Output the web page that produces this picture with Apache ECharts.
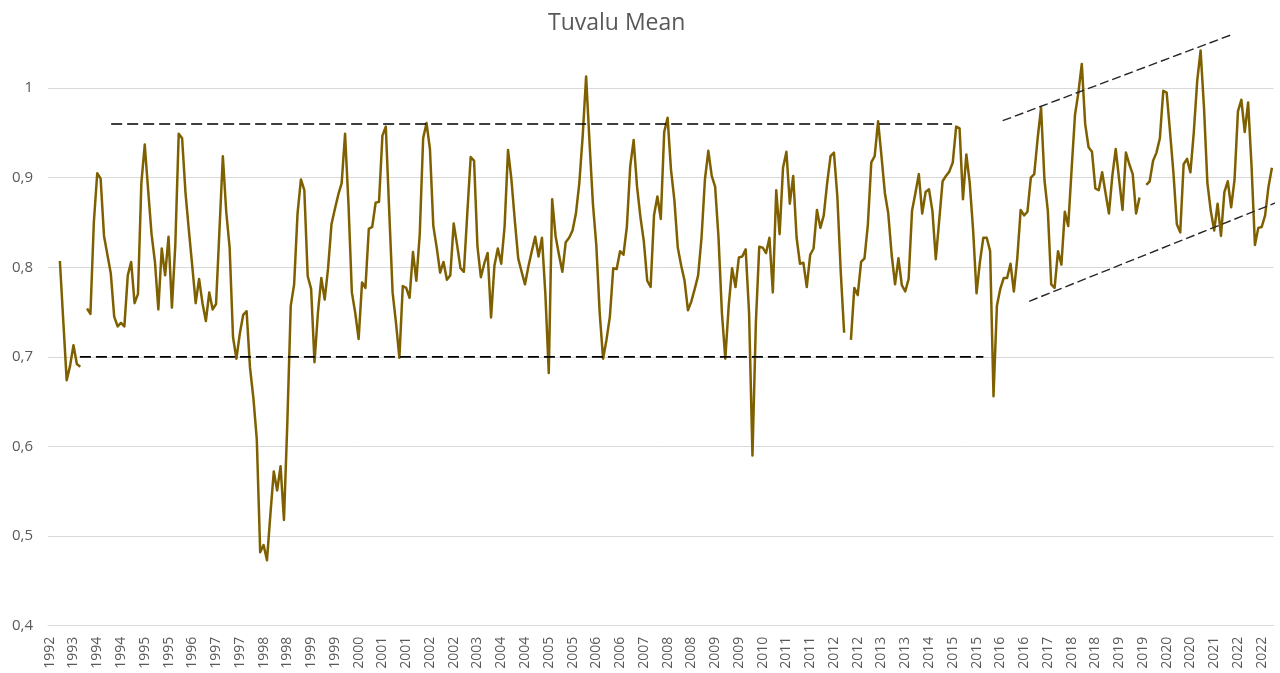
<!DOCTYPE html>
<html>
<head>
<meta charset="utf-8">
<script src="https://cdn.jsdelivr.net/npm/echarts@6/dist/echarts.min.js"></script>
<style>
html,body{margin:0;padding:0;background:#ffffff;}
#chart{width:1280px;height:673px;}
</style>
</head>
<body>
<div id="chart"></div>
<script>
// ---- data ----
const chartTitle = 'Tuvalu Mean';
const firstYear = 1992;      // category 0 = December 1992
const firstMonth = 12;
const monthCount = 361;      // Dec 1992 .. Dec 2022

// monthly mean values (null = missing month), 12 per row starting Dec 1992
const meanValues = [
  null, null, null, 0.807, 0.740, 0.674, 0.690, 0.713, 0.692, 0.689, null, 0.754,
  0.748, 0.850, 0.905, 0.899, 0.835, 0.814, 0.793, 0.745, 0.734, 0.738, 0.734, 0.791,
  0.806, 0.760, 0.770, 0.894, 0.937, 0.886, 0.837, 0.806, 0.753, 0.821, 0.791, 0.834,
  0.755, 0.825, 0.949, 0.944, 0.883, 0.841, 0.801, 0.760, 0.787, 0.760, 0.740, 0.772,
  0.753, 0.759, 0.841, 0.924, 0.862, 0.822, 0.722, 0.698, 0.726, 0.747, 0.751, 0.688,
  0.654, 0.608, 0.482, 0.490, 0.473, 0.524, 0.572, 0.551, 0.578, 0.518, 0.627, 0.757,
  0.781, 0.860, 0.898, 0.886, 0.790, 0.776, 0.694, 0.749, 0.788, 0.764, 0.799, 0.848,
  0.865, 0.881, 0.894, 0.949, 0.871, 0.772, 0.749, 0.720, 0.783, 0.777, 0.843, 0.845,
  0.872, 0.873, 0.947, 0.957, 0.863, 0.772, 0.738, 0.699, 0.779, 0.777, 0.766, 0.817,
  0.785, 0.837, 0.944, 0.961, 0.932, 0.846, 0.822, 0.794, 0.806, 0.786, 0.791, 0.849,
  0.825, 0.799, 0.795, 0.860, 0.923, 0.919, 0.823, 0.789, 0.804, 0.816, 0.744, 0.802,
  0.821, 0.804, 0.846, 0.931, 0.898, 0.852, 0.810, 0.795, 0.781, 0.801, 0.818, 0.834,
  0.812, 0.833, 0.770, 0.682, 0.876, 0.835, 0.814, 0.795, 0.828, 0.833, 0.841, 0.860,
  0.894, 0.947, 1.013, 0.940, 0.871, 0.825, 0.749, 0.698, 0.719, 0.745, 0.799, 0.798,
  0.818, 0.814, 0.845, 0.913, 0.942, 0.890, 0.856, 0.829, 0.785, 0.778, 0.858, 0.879,
  0.854, 0.951, 0.967, 0.909, 0.875, 0.822, 0.802, 0.785, 0.752, 0.762, 0.776, 0.791,
  0.833, 0.898, 0.930, 0.902, 0.890, 0.833, 0.749, 0.698, 0.757, 0.799, 0.778, 0.811,
  0.812, 0.820, 0.749, 0.590, 0.738, 0.823, 0.822, 0.816, 0.833, 0.772, 0.886, 0.837,
  0.911, 0.929, 0.871, 0.902, 0.833, 0.804, 0.805, 0.778, 0.814, 0.821, 0.864, 0.844,
  0.858, 0.894, 0.924, 0.928, 0.879, 0.795, 0.727, null, 0.719, 0.777, 0.769, 0.806,
  0.810, 0.848, 0.917, 0.924, 0.963, 0.924, 0.883, 0.860, 0.814, 0.781, 0.810, 0.780,
  0.773, 0.787, 0.863, 0.883, 0.904, 0.860, 0.884, 0.887, 0.863, 0.809, 0.852, 0.896,
  0.902, 0.907, 0.917, 0.957, 0.955, 0.876, 0.926, 0.894, 0.841, 0.771, 0.806, 0.833,
  0.833, 0.818, 0.656, 0.757, 0.776, 0.788, 0.788, 0.804, 0.773, 0.810, 0.864, 0.858,
  0.862, 0.900, 0.904, 0.944, 0.978, 0.898, 0.863, 0.781, 0.777, 0.818, 0.803, 0.862,
  0.846, 0.909, 0.970, 0.995, 1.027, 0.960, 0.934, 0.929, 0.888, 0.886, 0.906, 0.883,
  0.860, 0.902, 0.932, 0.898, 0.864, 0.928, 0.915, 0.904, 0.860, 0.878, null, 0.892,
  0.896, 0.919, 0.928, 0.944, 0.997, 0.995, 0.951, 0.905, 0.848, 0.839, 0.915, 0.921,
  0.906, 0.951, 1.008, 1.042, 0.978, 0.894, 0.863, 0.841, 0.871, 0.835, 0.884, 0.896,
  0.867, 0.898, 0.974, 0.987, 0.951, 0.984, 0.913, 0.825, 0.844, 0.845, 0.858, 0.890,
  0.911
];

// y axis scale
const yMin = 0.4, yMax = 1.1, yStep = 0.1;

// hand-drawn reference lines: [month index from Dec 1992, value]
const refHigh = [[18.1, 0.96], [265.8, 0.96]];
const refLow = [[8.9, 0.70], [275.0, 0.70]];
const channelTop = [[280.7, 0.9636], [347.7, 1.059]];
const channelBottom = [[288.5, 0.762], [362.4, 0.874]];

// ---- build ----
const categories = [];
for (let i = 0; i < monthCount; i++) {
  const m = firstMonth - 1 + i;
  const y = firstYear + Math.floor(m / 12);
  const mm = (m % 12) + 1;
  categories.push(y + '-' + String(mm).padStart(2, '0'));
}

const FONT = "'Open Sans', 'Noto Sans', sans-serif";
const chart = echarts.init(document.getElementById('chart'), null, { renderer: 'canvas' });

const dashedSeries = (data, dash, width, color) => ({
  type: 'line',
  xAxisIndex: 1,
  yAxisIndex: 0,
  data: data,
  symbol: 'none',
  silent: true,
  clip: false,
  z: 5,
  lineStyle: { color: color, width: width, type: dash },
  emphasis: { disabled: true }
});

chart.setOption({
  animation: false,
  backgroundColor: '#ffffff',
  title: {
    text: chartTitle,
    left: 543,
    top: 7,
    textStyle: { fontFamily: FONT, fontSize: 23, fontWeight: 'normal', color: '#595959' }
  },
  grid: {
    left: 48, right: 6.4, top: -1.5, bottom: 47.3,
    containLabel: false,
    outerBoundsMode: 'none'
  },
  xAxis: [
    {
      type: 'category',
      data: categories,
      boundaryGap: true,
      axisLine: { show: true, lineStyle: { color: '#d9d9d9', width: 1 } },
      axisTick: { show: false },
      splitLine: { show: false },
      axisLabel: {
        interval: 6,
        rotate: 90,
        margin: 11,
        fontFamily: FONT,
        fontSize: 14,
        color: '#595959',
        formatter: v => v.slice(0, 4)
      }
    },
    {
      type: 'value',
      min: -0.5,
      max: monthCount - 0.5,
      show: false
    }
  ],
  yAxis: {
    type: 'value',
    min: yMin,
    max: yMax,
    interval: yStep,
    axisLine: { show: false },
    axisTick: { show: false },
    splitLine: { show: true, lineStyle: { color: '#d9d9d9', width: 1 } },
    axisLabel: {
      margin: 15,
      fontFamily: FONT,
      fontSize: 15,
      color: '#595959',
      formatter: v => {
        const r = Math.round(v * 10) / 10;
        if (r > 1.05) return '';
        return String(r).replace('.', ',');
      }
    }
  },
  series: [
    {
      type: 'line',
      name: chartTitle,
      data: meanValues,
      symbol: 'none',
      connectNulls: false,
      z: 3,
      lineStyle: { color: '#7f6000', width: 2.5, join: 'round' },
      emphasis: { disabled: true }
    },
    dashedSeries(refHigh, [11, 5], 1.6, '#000000'),
    dashedSeries(refLow, [11, 5], 1.6, '#000000'),
    dashedSeries(channelTop, [9, 4], 1.4, '#262626'),
    dashedSeries(channelBottom, [9, 4], 1.4, '#262626')
  ]
});
</script>
</body>
</html>
